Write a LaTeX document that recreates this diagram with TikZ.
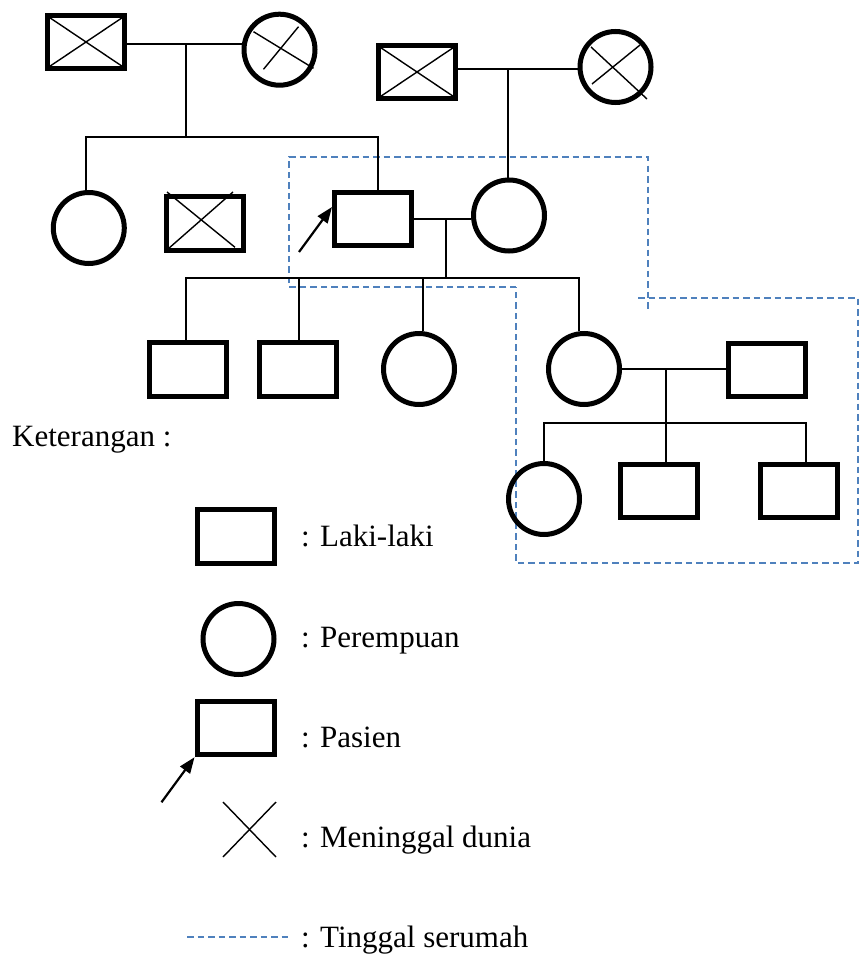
\documentclass[tikz,border=0pt]{standalone}
\usepackage{fontspec}
\setmainfont{Liberation Serif}
\usetikzlibrary{calc,arrows.meta}
\definecolor{housecol}{HTML}{4F81BD}
\begin{document}
\begin{tikzpicture}[x=1pt,y=-1pt,
  male/.style={draw,line width=5pt,minimum width=77pt,minimum height=53.5pt,inner sep=0pt},
  female/.style={draw,circle,line width=5pt,minimum size=71pt,inner sep=0pt},
  link/.style={line width=1.6pt},
  deadx/.style={line width=1.4pt},
  pointer/.style={line width=2.2pt,-{Triangle[length=16pt,width=12pt]}},
  samehouse/.style={draw=housecol,line width=1.4pt,dash pattern=on 6.5pt off 4pt},
  legendtext/.style={anchor=base west,inner sep=0pt,font=\fontsize{31}{37}\selectfont}]
\useasboundingbox (0,0) rectangle (859,955);

% ---- household outline ----
\draw[samehouse] (516,287) -- (289,287) -- (289,157) -- (648,157) -- (648,312);
\draw[samehouse] (638,298) -- (858,298) -- (858,563) -- (516,563) -- (516,287);

% ---- generation I ----
\node[male]   (gf1) at (86,42) {};
\node[female] (gm1) at (279.5,49.7) {};
\node[male]   (gf2) at (417,72) {};
\node[female] (gm2) at (615.5,67) {};

% ---- generation II ----
\node[female] (aunt)  at (88.8,228) {};
\node[male]   (uncle) at (204.5,223.5) {};
\node[male]   (pt)    at (373,219) {};
\node[female] (wife)  at (509,215.5) {};

% ---- generation III ----
\node[male]   (k1)    at (188,369.5) {};
\node[male]   (k2)    at (298,369.5) {};
\node[female] (k3)    at (419,369) {};
\node[female] (k4)    at (584,369) {};
\node[male]   (inlaw) at (767,370) {};

% ---- generation IV ----
\node[female] (g1) at (544,499) {};
\node[male]   (g2) at (659,491) {};
\node[male]   (g3) at (798.5,491) {};

% deceased marks
\draw[deadx] ($(gf1)+(-36.5,-24.5)$) -- ($(gf1)+(36.5,24.5)$);
\draw[deadx] ($(gf1)+(36.5,-24.5)$) -- ($(gf1)+(-36.5,24.5)$);
\draw[deadx] ($(gf2)+(-36.5,-24.5)$) -- ($(gf2)+(36.5,24.5)$);
\draw[deadx] ($(gf2)+(36.5,-24.5)$) -- ($(gf2)+(-36.5,24.5)$);
\draw[deadx] ($(uncle)+(-37.5,-31.5)$) -- ($(uncle)+(30.5,23.8)$);
\draw[deadx] ($(uncle)+(28.5,-31.5)$) -- ($(uncle)+(-36.5,25.5)$);
\draw[deadx] ($(gm1)+(-26,-18)$) -- ($(gm1)+(34,18.6)$);
\draw[deadx] ($(gm1)+(19,-23)$) -- ($(gm1)+(-16,19.6)$);
\draw[deadx] ($(gm2)+(-24.5,-20)$) -- ($(gm2)+(31.5,32)$);
\draw[deadx] ($(gm2)+(24.5,-22)$) -- ($(gm2)+(-23.5,17)$);

% junction points
\coordinate (u1)   at (186,44.3);
\coordinate (sib1) at (186,137);
\coordinate (u2)   at (508,69);
\coordinate (u3)   at (446,219);
\coordinate (sib2) at (446,278);
\coordinate (u4)   at (666,368);
\coordinate (sib3) at (666,423);

% connectors
\draw[link] (gf1.east |- u1) -- (gm1.west |- u1);
\draw[link] (u1) -- (sib1);
\draw[link] ([xshift=-3pt]aunt.north) |- (sib1) -| ([xshift=5pt]pt.north);

\draw[link] (gf2.east |- u2) -- (gm2.west |- u2);
\draw[link] (u2) -- (u2 |- wife.north);

\draw[link] (pt.east) -- (pt.east -| wife.west);
\draw[link] (u3) -- (sib2);
\draw[link] ([xshift=-2pt]k1.north) |- (sib2) -| ([xshift=-5pt]k4.north);
\draw[link] ([xshift=1pt]k2.north) -- ([xshift=1pt]k2.north |- sib2);
\draw[link] ([xshift=4pt]k3.north) -- ([xshift=4pt]k3.north |- sib2);

\draw[link] (k4.east) -- (k4.east -| inlaw.west);
\draw[link] (u4) -- (sib3);
\draw[link] (g1.north) |- (sib3) -| ([xshift=7.5pt]g3.north);
\draw[link] (sib3) -- (sib3 |- g2.north);

% patient pointer
\coordinate (pttip) at ([yshift=12pt]pt.west);
\draw[pointer] ($(pttip)+(-33,45)$) -- (pttip);

% ---- legend ----
\node[legendtext] (ket) at (12,446) {Keterangan :};

\node[male]   (lm) at (235.5,536.5) {};
\node[legendtext] (tm) at (301,546) {: Laki-laki};

\node[female] (lf) at (238.5,639) {};
\node[legendtext] (tf) at (301,647) {: Perempuan};

\node[male]   (lp) at (235.5,728) {};
\coordinate (lptip) at (lp.south west);
\draw[pointer] ($(lptip)+(-33,45)$) -- (lptip);
\node[legendtext] (tp) at (301,747) {: Pasien};

\coordinate (lx) at (249.5,829.5);
\draw[deadx] ($(lx)+(-26.5,-27.5)$) -- ($(lx)+(26.5,27.5)$);
\draw[deadx] ($(lx)+(26.5,-27.5)$) -- ($(lx)+(-26.5,27.5)$);
\node[legendtext] (td) at (301,847) {: Meninggal dunia};

\coordinate (ld1) at (187,937);
\coordinate (ld2) at (290,937);
\draw[samehouse] (ld1) -- (ld2);
\node[legendtext] (th) at (301,947) {: Tinggal serumah};
\end{tikzpicture}
\end{document}
